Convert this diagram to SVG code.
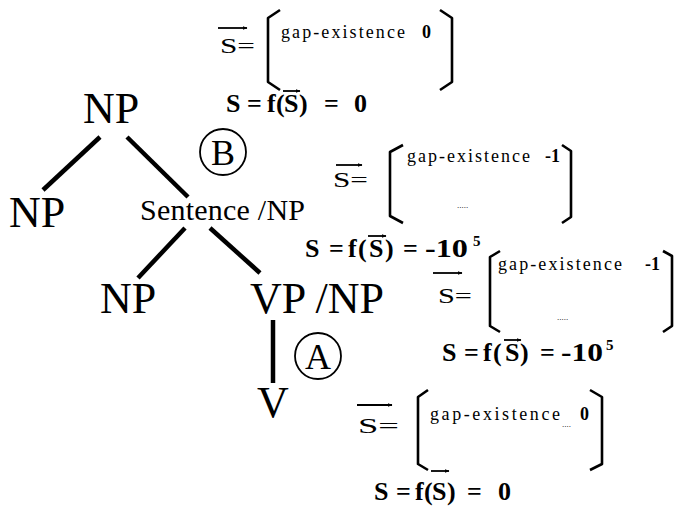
<svg xmlns="http://www.w3.org/2000/svg" width="676" height="517" viewBox="0 0 676 517">
<style>
.bg{fill:#fff}
.node{font-family:"Liberation Serif","Times New Roman",serif;font-size:44px;fill:#000}
.sent{font-family:"Liberation Serif","Times New Roman",serif;font-size:30px;fill:#000}
.edge{stroke:#000;stroke-width:4.5;stroke-linecap:butt;fill:none}
.circ{fill:none;stroke:#000;stroke-width:1.8}
.lab{font-family:"Liberation Serif","Times New Roman",serif;font-size:36px;fill:#000;text-anchor:middle}
.vec{font-family:"Liberation Serif","Times New Roman",serif;font-size:22px;fill:#000}
.feat{font-family:"Liberation Serif","Times New Roman",serif;font-size:18px;fill:#000}
.val{font-family:"Liberation Serif","Times New Roman",serif;font-size:18px;font-weight:bold;fill:#000}
.dots{font-family:"Liberation Serif","Times New Roman",serif;font-size:9px;fill:#000}
.form{font-family:"Liberation Serif","Times New Roman",serif;font-size:26px;font-weight:bold;fill:#000}
.sup{font-family:"Liberation Serif","Times New Roman",serif;font-size:15px;font-weight:bold;fill:#000}
.brk{fill:none;stroke:#000;stroke-width:2.6;stroke-linejoin:round}
.arr{stroke:#000;stroke-width:1.8;fill:none;marker-end:url(#ah)}
</style>
<defs>
<marker id="ah" viewBox="0 0 10 10" refX="9" refY="5" markerWidth="5" markerHeight="5" orient="auto" markerUnits="userSpaceOnUse">
<path d="M0,1 L10,5 L0,9 Z" fill="#000"/>
</marker>
</defs>
<rect class="bg" x="0" y="0" width="676" height="517"/>

<g id="connectors">
<line class="edge" x1="100" y1="137" x2="43" y2="190"/>
<line class="edge" x1="127" y1="137" x2="188" y2="197"/>
<line class="edge" x1="185" y1="228" x2="138" y2="278"/>
<line class="edge" x1="210" y1="228" x2="260" y2="273"/>
<line class="edge" x1="273" y1="320" x2="273" y2="383"/>
</g>

<g id="node-np-top"><text class="node" x="83" y="123">NP</text></g>
<g id="node-np-left"><text class="node" x="9" y="227">NP</text></g>
<g id="node-sentence"><text class="sent" x="140" y="220" textLength="165">Sentence /NP</text></g>
<g id="node-np-lower"><text class="node" x="100" y="313">NP</text></g>
<g id="node-vp"><text class="node" x="250" y="313">VP /NP</text></g>
<g id="node-v"><text class="node" x="257" y="417">V</text></g>

<g id="label-b">
<circle class="circ" cx="223" cy="152" r="23"/>
<text class="lab" x="223" y="165">B</text>
</g>
<g id="label-a">
<circle class="circ" cx="318" cy="356" r="23"/>
<text class="lab" x="318" y="369">A</text>
</g>

<g id="box1">
<line class="arr" x1="218" y1="28" x2="247" y2="28"/>
<text class="vec" x="220" y="53" textLength="35" lengthAdjust="spacingAndGlyphs">S=</text>
<path class="brk" d="M280,10 L268,18 L268,82 L280,90"/>
<path class="brk" d="M440,10 L452,18 L452,82 L440,90"/>
<text class="feat" x="281" y="38" textLength="124">gap-existence</text>
<text class="val" x="422" y="38">0</text>
<text class="form" y="112"><tspan x="226">S</tspan><tspan x="247">=</tspan><tspan x="267">f</tspan><tspan x="276">(</tspan><tspan x="284">S</tspan><tspan x="299">)</tspan><tspan x="324">=</tspan><tspan x="354">0</tspan></text>
<line class="arr" x1="283" y1="91" x2="300" y2="91"/>
</g>

<g id="box2">
<line class="arr" x1="336" y1="165" x2="362" y2="165"/>
<text class="vec" x="333" y="187" textLength="35" lengthAdjust="spacingAndGlyphs">S=</text>
<path class="brk" d="M403,145 L390,152 L390,216 L403,223"/>
<path class="brk" d="M562,145 L571,151 L571,217 L562,223"/>
<text class="feat" x="407" y="162" textLength="123">gap-existence</text>
<text class="val" x="545" y="162">-1</text>
<text class="dots" x="457" y="208">.....</text>
<text class="form" y="257"><tspan x="305">S</tspan><tspan x="329">=</tspan><tspan x="348">f</tspan><tspan x="358">(</tspan><tspan x="369">S</tspan><tspan x="385">)</tspan><tspan x="403">=</tspan><tspan x="425" textLength="43" lengthAdjust="spacingAndGlyphs">-10</tspan></text>
<text class="sup" x="473" y="246">5</text>
<line class="arr" x1="368" y1="236" x2="386" y2="236"/>
</g>

<g id="box3">
<line class="arr" x1="433" y1="273" x2="462" y2="273"/>
<text class="vec" x="438" y="303" textLength="34" lengthAdjust="spacingAndGlyphs">S=</text>
<path class="brk" d="M500,251 L490,257 L490,326 L500,332"/>
<path class="brk" d="M663,251 L672,256 L672,326 L663,332"/>
<text class="feat" x="498" y="270" textLength="124">gap-existence</text>
<text class="val" x="645" y="270">-1</text>
<text class="dots" x="557" y="320">.....</text>
<text class="form" y="361"><tspan x="442">S</tspan><tspan x="464">=</tspan><tspan x="483">f</tspan><tspan x="493">(</tspan><tspan x="505">S</tspan><tspan x="520">)</tspan><tspan x="540">=</tspan><tspan x="561" textLength="42" lengthAdjust="spacingAndGlyphs">-10</tspan></text>
<text class="sup" x="606" y="350">5</text>
<line class="arr" x1="504" y1="340" x2="521" y2="340"/>
</g>

<g id="box4">
<line class="arr" x1="357" y1="405" x2="392" y2="405"/>
<text class="vec" x="358" y="433" textLength="41" lengthAdjust="spacingAndGlyphs">S=</text>
<path class="brk" d="M428,390 L418,397 L418,464 L428,470"/>
<path class="brk" d="M590,390 L602,397 L602,464 L590,470"/>
<text class="feat" x="430" y="420" textLength="130">gap-existence</text>
<text class="dots" x="562" y="427">....</text>
<text class="val" x="580" y="420">0</text>
<text class="form" y="500"><tspan x="374">S</tspan><tspan x="396">=</tspan><tspan x="415">f</tspan><tspan x="424">(</tspan><tspan x="432">S</tspan><tspan x="447">)</tspan><tspan x="467">=</tspan><tspan x="498">0</tspan></text>
<line class="arr" x1="431" y1="471" x2="449" y2="471"/>
</g>
</svg>
